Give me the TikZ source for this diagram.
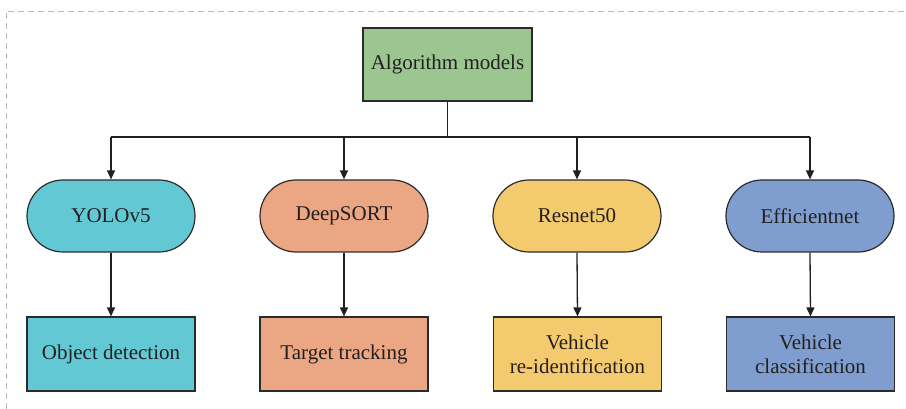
\documentclass[tikz,border=0pt]{standalone}
\usepackage{fontspec}
\setmainfont{Liberation Serif}
\usetikzlibrary{arrows.meta}
\definecolor{cgreen}{HTML}{9BC690}
\definecolor{ccyan}{HTML}{62C9D4}
\definecolor{csalmon}{HTML}{EBA783}
\definecolor{cyellow}{HTML}{F4CA6E}
\definecolor{cblue}{HTML}{7F9ECF}
\definecolor{cborder}{HTML}{2B2B2B}
\definecolor{ctext}{HTML}{231F20}
\tikzset{
  base/.style={draw=cborder, line width=1.2pt, font=\rmfamily\fontsize{21}{24}\selectfont, text=ctext, align=center, inner sep=0pt},
  topbox/.style={base, minimum width=169pt, minimum height=73pt},
  pill/.style={base, rounded corners=36pt, minimum width=168pt, minimum height=72pt},
  leaf/.style={base, minimum width=168pt, minimum height=74pt},
  conn/.style={line width=1.3pt, ctext},
  arr/.style={conn, -{Triangle[length=9pt, width=8pt]}},
  frame/.style={draw=gray!55, line width=0.8pt, dash pattern=on 6pt off 4pt}
}
\begin{document}
\begin{tikzpicture}[x=1pt, y=-1pt]
\useasboundingbox (0,0) rectangle (906,409);
\draw[frame] (6,409) -- (6,11) -- (906,11);
\node[topbox, fill=cgreen] (root) at (447.5,64.5) {Algorithm models};
\node[pill, fill=ccyan] (m1) at (111,216) {YOLOv5};
\node[pill, fill=csalmon] (m2) at (344,216) {DeepSORT};
\node[pill, fill=cyellow] (m3) at (577,216) {Resnet50};
\node[pill, fill=cblue] (m4) at (810,216) {Efficientnet};
\node[leaf, fill=ccyan] (t1) at (111,354) {Object detection};
\node[leaf, fill=csalmon] (t2) at (344,354) {Target tracking};
\node[leaf, fill=cyellow] (t3) at (577.5,354) {Vehicle\\re-identification};
\node[leaf, fill=cblue] (t4) at (810.5,354) {Vehicle\\classification};
\coordinate (bus) at (447.5,137);
\draw[conn] (root.south) -- (bus);
\draw[conn] (m1.north |- bus) -- (m4.north |- bus);
\foreach \i in {1,2,3,4}{
  \draw[arr] (m\i.north |- bus) -- (m\i.north);
  \draw[arr] (m\i.south) -- (t\i.north);
}
\end{tikzpicture}
\end{document}
